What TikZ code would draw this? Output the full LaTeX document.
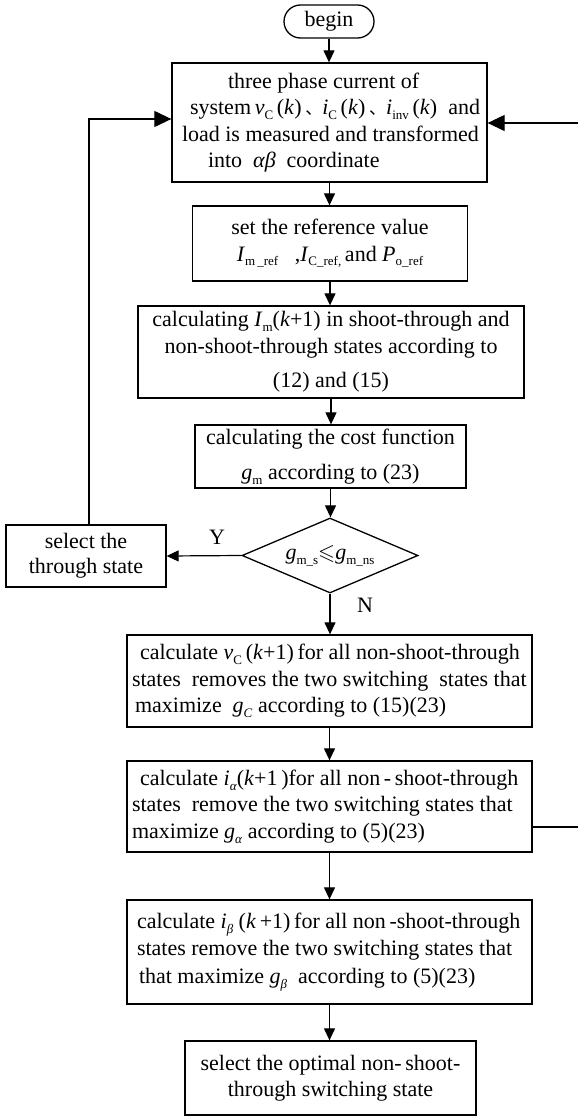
\documentclass[tikz,border=0pt]{standalone}
\usepackage{fontspec}
\usepackage{amssymb}
\setmainfont{Liberation Serif}
\newfontfamily\cjk{Noto Sans CJK SC}
\usetikzlibrary{arrows.meta,shapes.geometric,calc}
\newcommand{\subx}[1]{\raisebox{-0.22em}{\fontsize{13}{13}\selectfont #1}}
\newcommand{\dun}{{\cjk\fontsize{17}{17}\selectfont 、}}
\newlength{\bw}
\newcommand{\Ln}[2]{\makebox[\bw][l]{\hspace*{#1}#2}}
\begin{document}
\begin{tikzpicture}[x=1pt,y=-1pt,
  every node/.style={font=\fontsize{22}{26.5}\selectfont, inner sep=0pt},
  box/.style={draw, line width=1.3pt, rectangle},
  arr/.style={line width=1.2pt, -{Triangle[length=12pt,width=11pt]}},
  bigarr/.style={line width=1.2pt, -{Triangle[length=17pt,width=16pt]}},
]
\useasboundingbox (0,0) rectangle (578,1116);

\node[box, rounded corners=16.5pt, minimum width=90pt, minimum height=33pt] (begin) at (329,21.5) {begin};

\node[box, minimum width=315pt, minimum height=119pt, align=left] (b1) at (329.5,122.5) {%
\setlength{\bw}{295pt}%
\Ln{46pt}{three phase current of}\\
\Ln{8pt}{system\,\textit{v}\subx{C}\,(\textit{k})\,\dun\textit{i}\subx{C}\,(\textit{k})\,\dun\textit{i}\subx{inv}\,(\textit{k})\ \ and}\\
\Ln{0pt}{load is measured and transformed}\\
\Ln{26pt}{into\ \ \textit{αβ}\ \ coordinate}};

\node[box, minimum width=275pt, minimum height=75pt, align=center] (b2) at (330,243.5) {%
set the reference value\\
\textit{I}\subx{m\,\_ref}\ \ \ ,\textit{I}\subx{C\_ref,}\,and \textit{P}\subx{o\_ref}};

\node[box, minimum width=386pt, minimum height=92pt, align=center] (b3) at (331,352) {%
calculating \textit{I}\subx{m}(\textit{k}+1) in shoot-through and\\
non-shoot-through states according to\\[8pt]
(12) and (15)};

\node[box, minimum width=271pt, minimum height=63pt, align=center] (b4) at (330.5,456.5) {%
calculating the cost function\\[9pt]
\textit{g}\subx{m} according to (23)};

\node[box, diamond, aspect=2.35, minimum width=176pt, minimum height=75pt] (d) at (330,555.5) {%
\textit{g}\subx{m\_s}$\leqslant$\textit{g}\subx{m\_ns}};

\node[box, minimum width=160pt, minimum height=62pt, align=center, font=\fontsize{22}{25}\selectfont] (sel) at (86,556) {%
select the\\through state};

\node[box, minimum width=405pt, minimum height=92pt, align=left] (b5) at (329.5,681) {%
\setlength{\bw}{395pt}%
\Ln{8pt}{calculate \textit{v}\subx{C}\,(\textit{k}+1)\,for all non-shoot-through}\\
\Ln{0pt}{states\ \ removes the two switching\ \ states that}\\
\Ln{3pt}{maximize\ \ \textit{g}\subx{\textit{C}}\ according to (15)(23)}};

\node[box, minimum width=405pt, minimum height=91pt, align=left] (b6) at (329.5,806.5) {%
\setlength{\bw}{395pt}%
\Ln{8pt}{calculate \textit{i}\subx{\textit{α}}(\textit{k}+1\,)for all non\,-\,shoot-through}\\
\Ln{0pt}{states\ \ remove the two switching states that}\\
\Ln{0pt}{maximize \textit{g}\subx{\textit{α}}\ according to (5)(23)}};

\node[box, minimum width=405pt, minimum height=104pt, align=left, font=\fontsize{22}{27.5}\selectfont] (b7) at (329.5,952) {%
\setlength{\bw}{385pt}%
\Ln{0pt}{calculate \textit{i}\subx{\textit{β}}\ (\textit{k}\,+1)\,for all non\,-shoot-through}\\
\Ln{0pt}{states remove the two switching states that}\\
\Ln{2pt}{that maximize \textit{g}\subx{\textit{β}}\ \ according to (5)(23)}};

\node[box, minimum width=291pt, minimum height=74pt, align=center] (b8) at (330.5,1078) {%
select the optimal non-\,shoot-\\through switching state};

\node (ylab) at (217,537) {Y};
\node (nlab) at (365,605) {N};

\draw[arr] (begin.south) -- (begin.south |- b1.north);
\draw[arr] (b1.south) -- (b1.south |- b2.north);
\draw[arr] (b2.south) -- (b2.south |- b3.north);
\draw[arr] (b3.south) -- (b3.south |- b4.north);
\draw[arr] (b4.south) -- (b4.south |- d.north);
\draw[arr] (d.south) -- (d.south |- b5.north);
\draw[arr] (d.west) -- (sel.east);
\draw[arr] (b5.south) -- (b5.south |- b6.north);
\draw[arr] (b6.south) -- (b6.south |- b7.north);
\draw[arr] (b7.south) -- (b7.south |- b8.north);
\draw[bigarr] ([xshift=3pt]sel.north) |- ([yshift=3.5pt]b1.west);
\draw[bigarr] ([yshift=-20.5pt]b6.east) -- ++(50,0) |- ([yshift=-0.5pt]b1.east);
\end{tikzpicture}
\end{document}
